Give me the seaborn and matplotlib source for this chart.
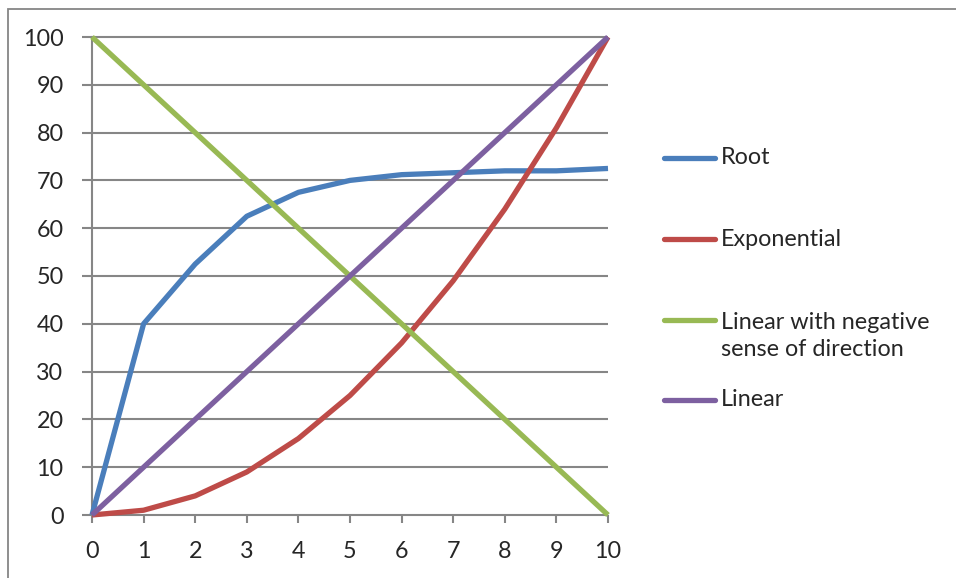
import pandas as pd
import seaborn as sns
import matplotlib.pyplot as plt
from matplotlib.lines import Line2D
from matplotlib.patches import Rectangle

# valores
x_vals = [0, 1, 2, 3, 4, 5, 6, 7, 8, 9, 10]
root = [0, 40, 52.5, 62.5, 67.5, 70, 71.2, 71.6, 72, 72, 72.5]
exponential = [0, 1, 4, 9, 16, 25, 36, 49, 64, 81, 100]
linear_neg = [100, 90, 80, 70, 60, 50, 40, 30, 20, 10, 0]
linear = [0, 10, 20, 30, 40, 50, 60, 70, 80, 90, 100]

series_names = ['Root', 'Exponential', 'Linear with negative\nsense of direction', 'Linear']
series_values = [root, exponential, linear_neg, linear]
cores = ['#4A7EBB', '#BE4B48', '#98B954', '#7D60A0']
y_ticks = [0, 10, 20, 30, 40, 50, 60, 70, 80, 90, 100]

GRID = '#868686'
FONTE = 16.8


def montar_dados():
    linhas = []
    for nome, valores in zip(series_names, series_values):
        for x, y in zip(x_vals, valores):
            linhas.append({'x': x, 'y': y, 'serie': nome})
    return pd.DataFrame(linhas)


def grafico():
    sns.set_style('white')
    plt.rcParams['font.family'] = ['Lato', 'DejaVu Sans']

    dados = montar_dados()

    fig = plt.figure(figsize=(9.56, 5.78), dpi=100)
    ax = fig.add_axes([92 / 956, 1 - 515 / 578, (608 - 92) / 956, (515 - 37) / 578])

    # grade horizontal
    for v in y_ticks:
        ax.axhline(v, color=GRID, lw=1.5, zorder=1, clip_on=False)

    sns.lineplot(data=dados, x='x', y='y', hue='serie', hue_order=series_names,
                 palette=dict(zip(series_names, cores)), lw=3.8, legend=False,
                 ax=ax, zorder=3)
    for linha in ax.lines:
        linha.set_solid_capstyle('butt')
        linha.set_clip_on(False)

    ax.set_xlim(0, 10)
    ax.set_ylim(0, 100)
    ax.set_xticks(x_vals)
    ax.set_yticks(y_ticks)
    ax.set_xlabel('')
    ax.set_ylabel('')

    for lado in ['top', 'right', 'bottom']:
        ax.spines[lado].set_visible(False)
    ax.spines['left'].set_color(GRID)
    ax.spines['left'].set_linewidth(1.5)

    ax.tick_params(axis='y', length=7.5, width=1.5, color=GRID, pad=13,
                   labelsize=FONTE, left=True, direction='out')
    ax.tick_params(axis='x', length=5.5, width=1.5, color=GRID, pad=13,
                   labelsize=FONTE, bottom=True, direction='out')

    # legenda desenhada na mao para acertar o espacamento
    pos_linha = [158, 239, 320, 400]
    pos_texto = [158, 239, 336, 400]
    for nome, cor, py, pt in zip(series_names, cores, pos_linha, pos_texto):
        yf = 1 - py / 578
        fig.add_artist(Line2D([664 / 956, 715 / 956], [yf, yf], color=cor, lw=3.8,
                              solid_capstyle='round', transform=fig.transFigure))
        fig.text(721 / 956, 1 - pt / 578, nome, fontsize=FONTE, va='center',
                 ha='left', linespacing=1.4)

    # moldura externa
    fig.add_artist(Rectangle((8 / 956, -0.1), 1.2, 1.1 - 9 / 578, fill=False,
                             edgecolor=GRID, lw=1.3, transform=fig.transFigure))

    fig.savefig('out.png', dpi=100)


if __name__ == "__main__":
    grafico()
